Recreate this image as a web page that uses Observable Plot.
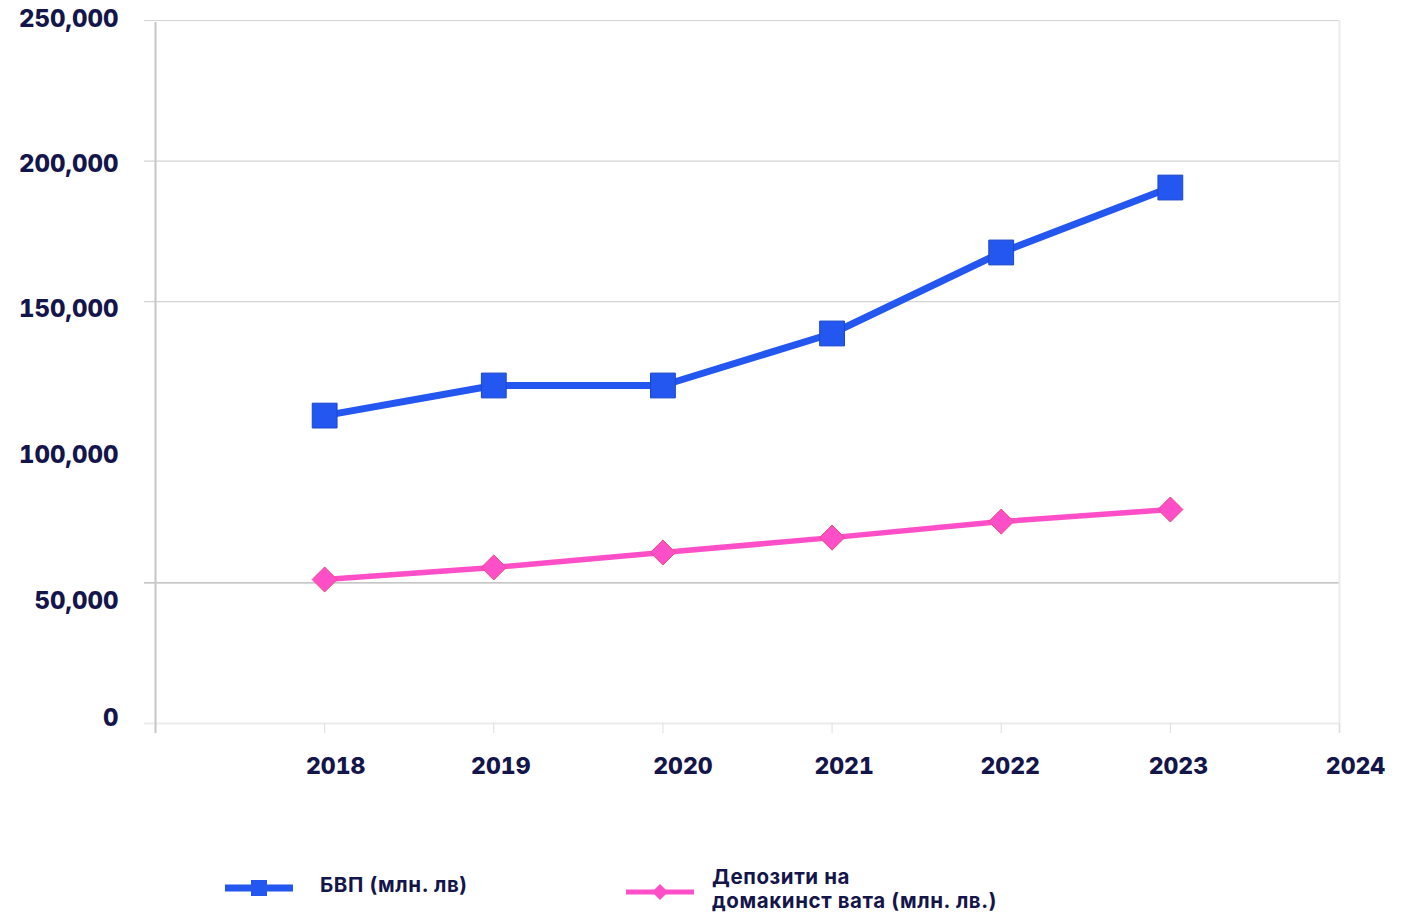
<!DOCTYPE html>
<html><head><meta charset="utf-8">
<script src="https://cdn.jsdelivr.net/npm/d3@7"></script>
<script src="https://cdn.jsdelivr.net/npm/@observablehq/plot@0.6"></script>
<style>
body{margin:0;background:#fff;font-family:Inter,"Noto Sans",sans-serif;}
#wrap{position:relative;width:1409px;height:914px;overflow:hidden;background:#fff;}
#chart{position:absolute;left:0;top:0;}
.lg{position:absolute;color:#14154a;font-weight:700;font-size:20.5px;letter-spacing:0.6px;line-height:24px;white-space:nowrap;}
.sw{position:absolute;}
</style></head><body>
<div id="wrap"><div id="chart"></div><div id="legend"></div></div>
<script>
// ---- data ----
const years = [2018, 2019, 2020, 2021, 2022, 2023];
const gdp = [109500, 120200, 120200, 138700, 167500, 190600];
const deposits = [51200, 55500, 60800, 66100, 71800, 76100];
const seriesNames = ["БВП (млн. лв)", ["Депозити на", "домакинст вата (млн. лв.)"]];
const xTickValues = [2018, 2019, 2020, 2021, 2022, 2023, 2024];
const yTickValues = [0, 50000, 100000, 150000, 200000, 250000];
const gridValues = [0, 50000, 150000, 200000, 250000];

// ---- styles ----
const blue = "#2457f0", pink = "#ff4fc8";
const textColor = "#14154a";
const yLabelDy = [-5, 18, 13, 8, 3, -1];
const xLabelDx = [11, 7, 20, 12, 9, 8, 16];
const gridColor = v => v === 0 ? "#ececec" : v === 50000 ? "#b3b3b3" : "#d4d4d4";

const rows = years.map((y, i) => ({year: y, gdp: gdp[i], dep: deposits[i]}));
const fmt = d3.format(",");

const marks = [];
gridValues.forEach(v => marks.push(Plot.ruleY([v], {stroke: gridColor(v), strokeWidth: v === 0 ? 2 : 1.2, insetLeft: -11})));
marks.push(Plot.ruleX([2017], {stroke: "#c6c6c6", strokeWidth: 2, insetBottom: -10, insetTop: 2}));
marks.push(Plot.ruleX([2024], {stroke: "#ececec", strokeWidth: 2, insetBottom: -10}));
marks.push(Plot.axisX(xTickValues, {tickSize: 10, stroke: "#dedede", tickFormat: () => "", label: null}));
xTickValues.forEach((t, i) => marks.push(Plot.axisX([t], {
  tickSize: 0, tickPadding: 34, dx: xLabelDx[i], fill: textColor, stroke: "none", label: null,
  fontSize: 23, fontWeight: 800, fontFamily: "Inter", tickFormat: d => String(d)
})));
yTickValues.forEach((t, i) => marks.push(Plot.axisY([t], {
  tickSize: 0, tickPadding: 37, dy: yLabelDy[i], fill: textColor, stroke: "none", label: null,
  fontSize: 24, fontWeight: 800, fontFamily: "Inter", tickFormat: fmt
})));
marks.push(Plot.line(rows, {x: "year", y: "gdp", stroke: blue, strokeWidth: 7}));
marks.push(Plot.line(rows, {x: "year", y: "dep", stroke: pink, strokeWidth: 5.5}));
marks.push(Plot.dot(rows, {x: "year", y: "gdp", symbol: "square", r: 14, fill: blue, stroke: "#1c48c8", strokeWidth: 1}));
marks.push(Plot.dot(rows, {x: "year", y: "dep", symbol: "diamond2", r: 11.3, fill: pink, stroke: "#e8507a", strokeWidth: 1}));

const chart = Plot.plot({
  width: 1409, height: 800,
  marginLeft: 155, marginRight: 70, marginTop: 20, marginBottom: 77,
  x: {domain: [2017, 2024], axis: null, label: null},
  y: {domain: [0, 250000], axis: null, label: null},
  style: {background: "#fff", fontFamily: "Inter"},
  marks
});
document.getElementById("chart").appendChild(chart);

// ---- legend ----
const lg = document.getElementById("legend");
function swatch(left, cy, color, lw, sym) {
  const s = document.createElementNS("http://www.w3.org/2000/svg", "svg");
  s.setAttribute("class", "sw");
  s.setAttribute("width", 70); s.setAttribute("height", 24);
  s.style.left = left + "px"; s.style.top = (cy - 12) + "px";
  let inner = `<line x1="0" x2="68" y1="12" y2="12" stroke="${color}" stroke-width="${lw}"/>`;
  if (sym === "square") inner += `<rect x="26" y="4" width="16" height="16" fill="${color}"/>`;
  else inner += `<path d="M34,4L42,12L34,20L26,12Z" fill="${color}"/>`;
  s.innerHTML = inner;
  lg.appendChild(s);
}
swatch(225, 888, blue, 7, "square");
swatch(626, 892, pink, 5, "diamond");
const t1 = document.createElement("div");
t1.className = "lg"; t1.style.left = "320px"; t1.style.top = "873px";
t1.textContent = seriesNames[0];
lg.appendChild(t1);
const t2 = document.createElement("div");
t2.className = "lg"; t2.style.left = "712px"; t2.style.top = "865px";
t2.innerHTML = seriesNames[1].join("<br>");
lg.appendChild(t2);
</script>
</body></html>
